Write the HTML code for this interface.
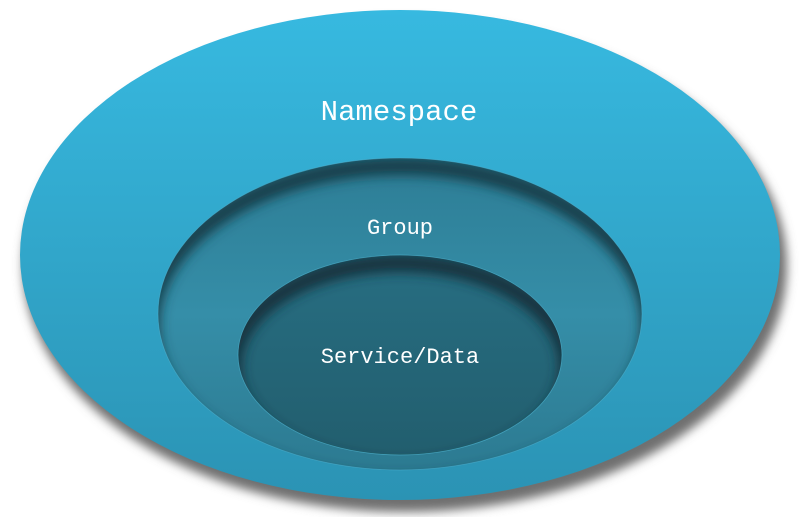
<!DOCTYPE html>
<html><head><meta charset="utf-8"><style>
html,body{margin:0;padding:0;background:#fff;width:802px;height:517px;overflow:hidden}
</style></head><body>
<svg width="802" height="517" viewBox="0 0 802 517" xmlns="http://www.w3.org/2000/svg">
<defs>
<linearGradient id="go" x1="0" y1="0" x2="0" y2="1">
<stop offset="0" stop-color="#37b9e0"/><stop offset="1" stop-color="#2b93b4"/></linearGradient>
<linearGradient id="gg" x1="0" y1="0" x2="0" y2="1">
<stop offset="0" stop-color="#2d7d95"/><stop offset="0.5" stop-color="#358ea8"/><stop offset="1" stop-color="#2c7a91"/></linearGradient>
<linearGradient id="gi" x1="0" y1="0" x2="0" y2="1">
<stop offset="0" stop-color="#276e82"/><stop offset="1" stop-color="#225e6e"/></linearGradient>
<filter id="sh" x="-10%" y="-10%" width="130%" height="130%"><feGaussianBlur stdDeviation="5"/></filter>
<filter id="bl" x="-10%" y="-10%" width="120%" height="120%"><feGaussianBlur stdDeviation="6"/></filter>
<clipPath id="cg"><ellipse cx="400" cy="314" rx="242" ry="156"/></clipPath>
<clipPath id="ci"><ellipse cx="400" cy="355" rx="162" ry="100"/></clipPath>
</defs>
<ellipse cx="405" cy="266" rx="382" ry="246" fill="#707070" filter="url(#sh)"/>
<ellipse cx="400" cy="255" rx="380" ry="245" fill="url(#go)"/>
<ellipse cx="400" cy="314" rx="242" ry="156" fill="url(#gg)"/>
<g clip-path="url(#cg)"><ellipse cx="400" cy="326" rx="250" ry="160" fill="none" stroke="#163c48" stroke-width="18" filter="url(#bl)"/></g>
<ellipse cx="400" cy="314" rx="242" ry="156" fill="none" stroke="#4fb3d0" stroke-width="0.8" opacity="0.6"/>
<ellipse cx="400" cy="355" rx="162" ry="100" fill="url(#gi)"/>
<g clip-path="url(#ci)"><ellipse cx="400" cy="367" rx="168" ry="104" fill="none" stroke="#12323c" stroke-width="18" filter="url(#bl)"/></g>
<ellipse cx="400" cy="355" rx="162" ry="100" fill="none" stroke="#4fb3d0" stroke-width="0.8" opacity="0.7"/>
<g font-family="'Liberation Mono','Noto Serif CJK SC',monospace" fill="#fff" text-anchor="middle">
<text x="399" y="120" font-size="29">Namespace</text>
<text x="400" y="234" font-size="22">Group</text>
<text x="400" y="363" font-size="22">Service/Data</text>
</g>
</svg>
</body></html>
